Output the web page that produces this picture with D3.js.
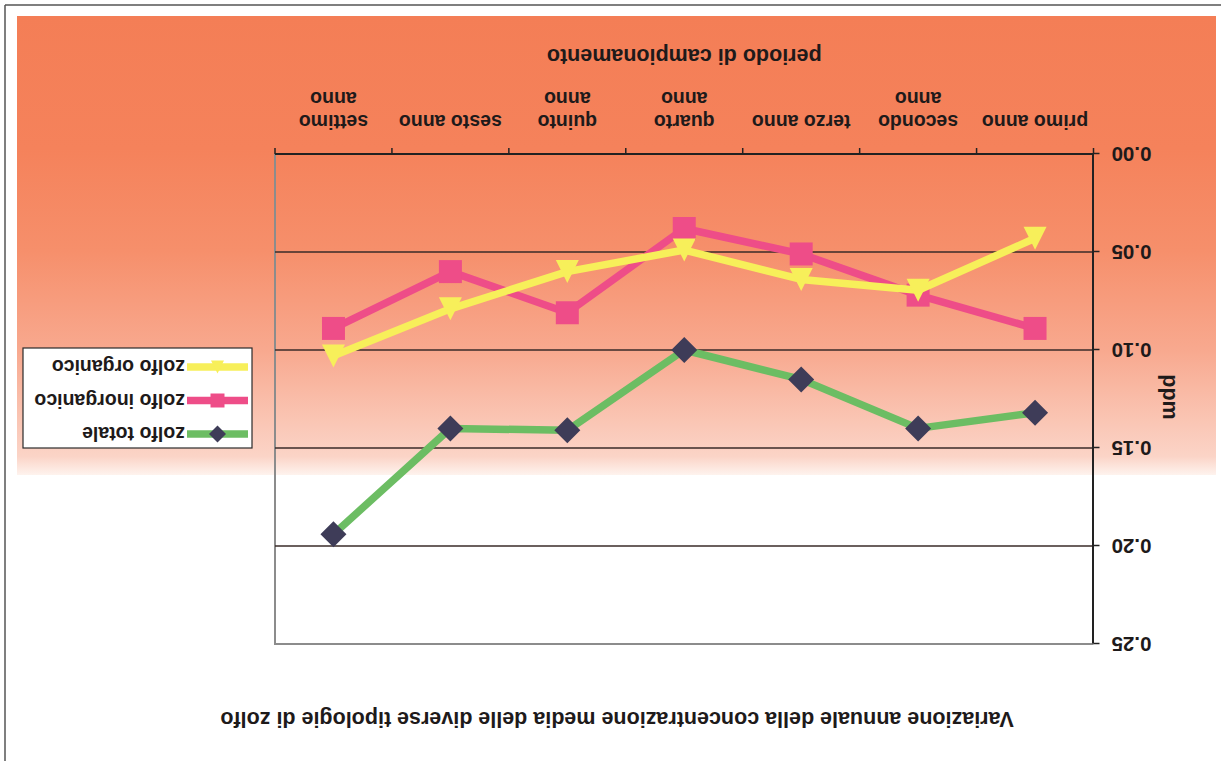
<!DOCTYPE html>
<html>
<head>
<meta charset="utf-8">
<script src="https://cdn.jsdelivr.net/npm/d3@7"></script>
<style>
  html, body { margin: 0; padding: 0; background: #fff; }
  svg { display: block; }
  text { font-family: "Liberation Sans", Arial, sans-serif; font-weight: bold; fill: #1e1a1a; }
</style>
</head>
<body>
<svg id="chart" width="1221" height="761"></svg>
<script>
// Sampling periods (x axis) and the wrapped text shown under each one
const categories = ["primo anno", "secondo anno", "terzo anno", "quarto anno", "quinto anno", "sesto anno", "settimo anno"];
const categoryLabels = [["primo anno"], ["secondo", "anno"], ["terzo anno"], ["quarto", "anno"], ["quinto", "anno"], ["sesto anno"], ["settimo", "anno"]];

// Mean annual sulphur concentration, ppm
const zolfoTotale     = [0.132, 0.140, 0.115, 0.100, 0.141, 0.140, 0.194];
const zolfoInorganico = [0.089, 0.072, 0.051, 0.038, 0.081, 0.060, 0.089];
const zolfoOrganico   = [0.043, 0.0695, 0.064, 0.049, 0.060, 0.079, 0.103];

const seriesNames = ["zolfo totale", "zolfo inorganico", "zolfo organico"];
const yTicks = [0, 0.05, 0.10, 0.15, 0.20, 0.25];

const titleText = "Variazione annuale della concentrazione media delle diverse tipologie di zolfo";
const xTitle = "periodo di campionamento";
const yTitle = "ppm";

const W = 1221, H = 761;
const svg = d3.select("#chart");

// background fill of the chart area: pale at the top, salmon at the bottom
const defs = svg.append("defs");
const grad = defs.append("linearGradient").attr("id", "areaFill")
  .attr("x1", 0).attr("y1", 0).attr("x2", 0).attr("y2", 1);
[[0, "#fef3ee"], [0.04, "#fbd4c7"], [0.27, "#f8a98f"], [0.49, "#f68f6b"], [0.71, "#f5825b"], [1, "#f47e56"]]
  .forEach(([o, c]) => grad.append("stop").attr("offset", o).attr("stop-color", c));

// the sheet is printed upside-down: the whole drawing is turned half a turn
const root = svg.append("g").attr("transform", `rotate(180 ${W / 2} ${H / 2})`);

root.append("rect").attr("x", 0).attr("y", 0).attr("width", W).attr("height", H).attr("fill", "#fff");
root.append("rect").attr("x", 5).attr("y", 286).attr("width", 1199).attr("height", 459).attr("fill", "url(#areaFill)");

// page frame
root.append("line").attr("x1", 1216).attr("x2", 1216).attr("y1", 0).attr("y2", 756)
  .attr("stroke", "#555").attr("stroke-width", 1.5);
root.append("line").attr("x1", 0).attr("x2", 1216).attr("y1", 756).attr("y2", 756)
  .attr("stroke", "#555").attr("stroke-width", 1.5);

// scales
const plot = { left: 127.5, right: 946, top: 117, bottom: 607 };
const x = d3.scaleBand().domain(categories).range([plot.left, plot.right]).padding(0);
const y = d3.scaleLinear().domain([0, 0.25]).range([plot.bottom, plot.top]);
const cx = c => x(c) + x.bandwidth() / 2;

// plot border (top and right)
root.append("path")
  .attr("d", `M${plot.left},${y(0.25)}H${plot.right}V${plot.bottom}`)
  .attr("fill", "none").attr("stroke", "#8c8c8c").attr("stroke-width", 2);

// horizontal gridlines
root.append("g").selectAll("line").data(yTicks.filter(t => t > 0 && t < 0.25)).join("line")
  .attr("x1", plot.left).attr("x2", plot.right)
  .attr("y1", d => y(d)).attr("y2", d => y(d))
  .attr("stroke", "#3a2b28").attr("stroke-width", 1.4);

// y axis
const yAxis = root.append("g").attr("transform", `translate(${plot.left},0)`)
  .call(d3.axisLeft(y).tickValues(yTicks).tickFormat(d3.format(".2f"))
    .tickSize(6).tickSizeOuter(0).tickPadding(12));
yAxis.select(".domain").attr("stroke", "#222").attr("stroke-width", 2);
yAxis.selectAll(".tick line").attr("stroke", "#222").attr("stroke-width", 1.5);
yAxis.selectAll(".tick text").attr("font-size", 20.5).attr("font-family", null).attr("fill", null);

// x axis: baseline, ticks on category boundaries, wrapped labels
const xAxis = root.append("g");
xAxis.append("line").attr("x1", plot.left).attr("x2", plot.right)
  .attr("y1", plot.bottom).attr("y2", plot.bottom)
  .attr("stroke", "#222").attr("stroke-width", 2);
const boundaries = categories.map(c => x(c)).concat([x(categories[categories.length - 1]) + x.bandwidth()]);
xAxis.selectAll("line.tk").data(boundaries).join("line").attr("class", "tk")
  .attr("x1", d => d).attr("x2", d => d)
  .attr("y1", plot.bottom).attr("y2", plot.bottom + 6)
  .attr("stroke", "#222").attr("stroke-width", 1.5);
const lbl = xAxis.selectAll("text.cat").data(categories).join("text").attr("class", "cat")
  .attr("text-anchor", "middle").attr("font-size", 19.5);
lbl.selectAll("tspan").data((d, i) => categoryLabels[i].map(t => ({ t, c: d })))
  .join("tspan")
  .attr("x", d => cx(d.c))
  .attr("y", (d, j) => 646 + j * 23.4)
  .text(d => d.t);

// axis titles and chart title
root.append("text").attr("x", (plot.left + plot.right) / 2).attr("y", 711.6)
  .attr("text-anchor", "middle").attr("font-size", 21.5).text(xTitle);
root.append("text").attr("transform", `translate(50,${(plot.top + plot.bottom) / 2 + 2}) rotate(-90)`)
  .attr("text-anchor", "middle").attr("dy", "0.35em").attr("font-size", 21.5).text(yTitle);
root.append("text").attr("x", 604).attr("y", 48.6)
  .attr("text-anchor", "middle").attr("font-size", 21.5).text(titleText);

// series
const markerPath = {
  diamond: s => `M0,${-s}L${s},0L0,${s}L${-s},0Z`,
  square: s => `M${-s},${-s}H${s}V${s}H${-s}Z`,
  triangle: s => `M0,${-s}L${s},${s}L${-s},${s}Z`
};
const series = [
  { name: seriesNames[0], values: zolfoTotale, line: "#6cbd63", mark: "#3e3c58", shape: "diamond", size: 13, legendSize: 8.5 },
  { name: seriesNames[1], values: zolfoInorganico, line: "#ee4d88", mark: "#ee4d88", shape: "square", size: 11.5, legendSize: 7 },
  { name: seriesNames[2], values: zolfoOrganico, line: "#f7ef5a", mark: "#f7ef5a", shape: "triangle", size: 11.5, legendSize: 6.5 }
];

const line = d3.line().x(d => cx(d.c)).y(d => y(d.v));
series.forEach(s => {
  const pts = s.values.map((v, i) => ({ c: categories[i], v }));
  const g = root.append("g");
  g.append("path").attr("d", line(pts)).attr("fill", "none")
    .attr("stroke", s.line).attr("stroke-width", 7.5).attr("stroke-linejoin", "round");
  g.selectAll("path.m").data(pts).join("path").attr("class", "m")
    .attr("transform", d => `translate(${cx(d.c)},${y(d.v)})`)
    .attr("d", markerPath[s.shape](s.size)).attr("fill", s.mark);
});

// legend
const leg = root.append("g");
leg.append("rect").attr("x", 969).attr("y", 313).attr("width", 229).attr("height", 100)
  .attr("fill", "#fff").attr("stroke", "#2a2a2a").attr("stroke-width", 1.2);
const rowY = [327, 360.5, 394];
series.forEach((s, i) => {
  const ly = rowY[i];
  leg.append("line").attr("x1", 973).attr("x2", 1034).attr("y1", ly).attr("y2", ly)
    .attr("stroke", s.line).attr("stroke-width", 7.5);
  leg.append("path").attr("transform", `translate(1003.5,${ly})`)
    .attr("d", markerPath[s.shape](s.legendSize)).attr("fill", s.mark);
  leg.append("text").attr("x", 1036).attr("y", ly).attr("dy", "0.35em")
    .attr("font-size", 19.5).text(s.name);
});
</script>
</body>
</html>
